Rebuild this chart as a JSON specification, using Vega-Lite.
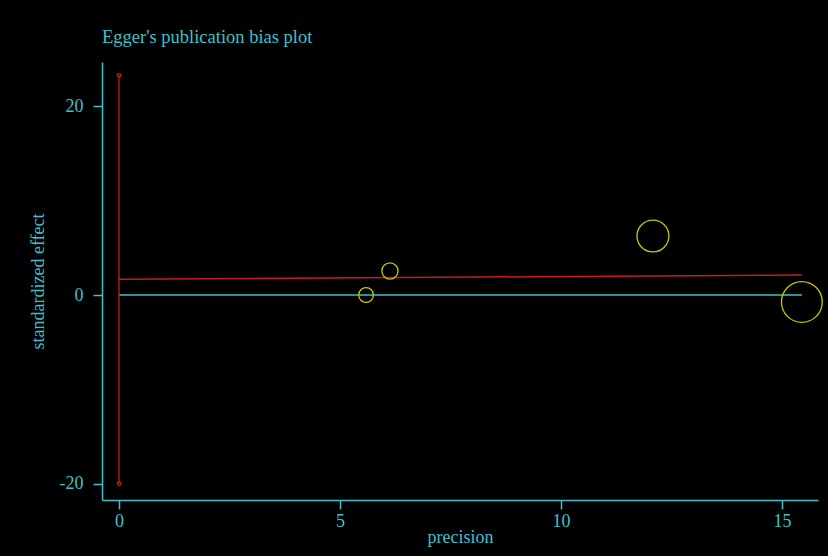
{
  "$schema": "https://vega.github.io/schema/vega-lite/v6.json",
  "autosize": "none",
  "width": 716,
  "height": 438,
  "padding": {"left": 102, "top": 62, "right": 10, "bottom": 56},
  "background": "black",
  "title": {
    "text": "Egger's publication bias plot",
    "anchor": "start",
    "frame": "group",
    "font": "Liberation Serif",
    "fontSize": 18.5,
    "fontWeight": "normal",
    "color": "#40c0c8",
    "baseline": "alphabetic",
    "offset": 1
  },
  "config": {
    "view": {"stroke": null},
    "axis": {
      "grid": false,
      "domainColor": "#40c0c8",
      "domainWidth": 1.5,
      "tickColor": "#40c0c8",
      "tickWidth": 1.5,
      "tickSize": 9,
      "labelColor": "#40c0c8",
      "titleColor": "#40c0c8",
      "labelFont": "Liberation Serif",
      "titleFont": "Liberation Serif",
      "labelFontSize": 18,
      "titleFontSize": 18,
      "titleFontWeight": "normal"
    }
  },
  "datasets": {
    "studies": [
      {"precision": 5.59, "effect": 0.0, "weight": 31.2},
      {"precision": 6.13, "effect": 2.55, "weight": 37.6},
      {"precision": 12.08, "effect": 6.26, "weight": 145.9},
      {"precision": 15.45, "effect": -0.74, "weight": 238.7}
    ],
    "zero": [
      {"precision": 0, "effect": 0},
      {"precision": 15.45, "effect": 0}
    ],
    "fit": [
      {"precision": 0, "effect": 1.66},
      {"precision": 15.45, "effect": 2.12}
    ],
    "ci": [
      {"precision": 0, "effect": -20.0},
      {"precision": 0, "effect": 23.3}
    ]
  },
  "layer": [
    {
      "data": {"name": "zero"},
      "mark": {"type": "line", "color": "#40c0c8", "strokeWidth": 1.3},
      "encoding": {
        "x": {
          "field": "precision",
          "type": "quantitative",
          "scale": {"domain": [-0.385, 15.815], "nice": false, "zero": false},
          "axis": {"values": [0, 5, 10, 15], "title": "precision", "labelPadding": 3, "titlePadding": -2}
        },
        "y": {
          "field": "effect",
          "type": "quantitative",
          "scale": {"domain": [-21.74, 24.71], "nice": false, "zero": false},
          "axis": {"values": [-20, 0, 20], "title": "standardized effect", "labelExpr": "'' + datum.value", "labelPadding": 10, "titlePadding": 12}
        }
      }
    },
    {
      "data": {"name": "fit"},
      "mark": {"type": "line", "color": "#c41e1e", "strokeWidth": 1.5},
      "encoding": {
        "x": {"field": "precision", "type": "quantitative"},
        "y": {"field": "effect", "type": "quantitative"}
      }
    },
    {
      "data": {"name": "ci"},
      "mark": {"type": "line", "color": "#c41e1e", "strokeWidth": 1.3},
      "encoding": {
        "x": {"field": "precision", "type": "quantitative"},
        "y": {"field": "effect", "type": "quantitative"}
      }
    },
    {
      "data": {"name": "ci"},
      "mark": {"type": "point", "shape": "circle", "filled": false, "color": "#c41e1e", "size": 12, "strokeWidth": 1.3, "opacity": 1},
      "encoding": {
        "x": {"field": "precision", "type": "quantitative"},
        "y": {"field": "effect", "type": "quantitative"}
      }
    },
    {
      "data": {"name": "studies"},
      "mark": {"type": "point", "shape": "circle", "filled": false, "color": "#c8c800", "strokeWidth": 1.3, "opacity": 1},
      "encoding": {
        "x": {"field": "precision", "type": "quantitative"},
        "y": {"field": "effect", "type": "quantitative"},
        "size": {
          "field": "weight",
          "type": "quantitative",
          "scale": {"domain": [0, 238.7], "range": [0, 1662]},
          "legend": null
        }
      }
    }
  ]
}
